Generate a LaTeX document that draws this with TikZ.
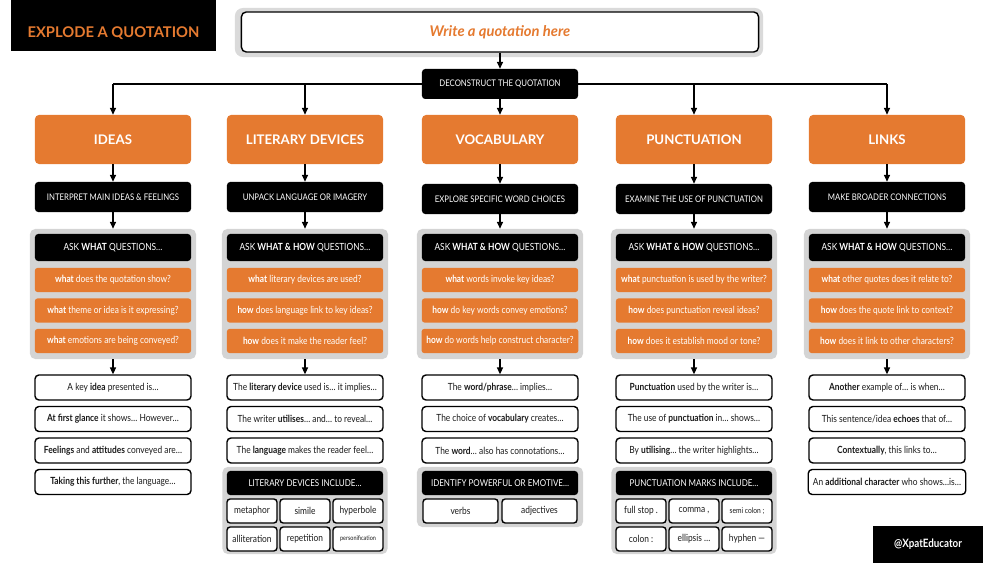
\documentclass[tikz,border=0pt]{standalone}
\usepackage{fontspec}
\setmainfont{Lato}
\newfontfamily\cond[FakeStretch=0.85]{Lato}
\usetikzlibrary{arrows.meta,positioning}
\definecolor{flame}{HTML}{E57A30}
\definecolor{panelgrey}{HTML}{D4D4D4}
\definecolor{quotegrey}{HTML}{DADADA}
\definecolor{ink}{HTML}{1A1A1A}

\begin{document}
\begin{tikzpicture}[x=.025cm,y=-.025cm,font=\cond\fontsize{7}{8.4}\selectfont,text=ink,
  arr/.style={-{Triangle[length=1.7mm,width=1.5mm]},line width=.85pt,draw=black},
  headbox/.style={fill=flame,rounded corners=.1cm,minimum width=3.9cm,minimum height=1.225cm,
    text=white,font=\rmfamily\bfseries\fontsize{9.4}{11}\selectfont},
  taskbox/.style={fill=black,rounded corners=.08cm,minimum width=3.9cm,minimum height=.75cm,text=white,
    font=\cond\fontsize{6.5}{8}\selectfont},
  askbox/.style={fill=black,rounded corners=.08cm,minimum width=3.9cm,minimum height=.675cm,text=white},
  qbox/.style={fill=flame,rounded corners=.06cm,minimum width=3.9cm,minimum height=.6cm,text=white},
  stembox/.style={draw=black,line width=1pt,fill=white,rounded corners=.1cm,
    minimum width=3.9cm,minimum height=.625cm},
  cellbox/.style={draw=black,line width=1pt,fill=white,rounded corners=.08cm,minimum height=.6cm},
  panel/.style={fill=panelgrey,rounded corners=.13cm,inner sep=0pt}]
\path[use as bounding box] (0,0) rectangle (1000,563);

% Title strip and the slot for the quotation
\fill[black] (11,0) rectangle (216,51);
\node[text=flame,font=\rmfamily\bfseries\fontsize{10.5}{12}\selectfont] (title) at (113.5,33.5) {EXPLODE A QUOTATION};
\node[fill=quotegrey,rounded corners=.2cm,minimum width=13.2cm,minimum height=1.225cm] (quoteback) at (499,32.5) {};
\node[draw=black,line width=1pt,fill=white,rounded corners=.12cm,minimum width=12.925cm,minimum height=1cm,
  text=flame,font=\rmfamily\bfseries\itshape\fontsize{10.5}{12}\selectfont] (quote) at (500,32) {Write a quotation here};

% Five lenses: heading, task and the question panel
\foreach \i/\cx/\ty/\head/\task/\ask in {
  1/113/197/IDEAS/{INTERPRET MAIN IDEAS \& FEELINGS}/{ASK \textbf{WHAT} QUESTIONS…},
  2/305/197/LITERARY DEVICES/UNPACK LANGUAGE OR IMAGERY/{ASK \textbf{WHAT \& HOW} QUESTIONS…},
  3/500/199/VOCABULARY/EXPLORE SPECIFIC WORD CHOICES/{ASK \textbf{WHAT \& HOW} QUESTIONS…},
  4/694/199/PUNCTUATION/EXAMINE THE USE OF PUNCTUATION/{ASK \textbf{WHAT \& HOW} QUESTIONS…},
  5/887/197/LINKS/MAKE BROADER CONNECTIONS/{ASK \textbf{WHAT \& HOW} QUESTIONS…}}{
  \coordinate (split\i) at (\cx,84);
  \node[headbox] (head\i) at (\cx,139.5) {\head};
  \node[taskbox] (task\i) at (\cx,\ty) {\task};
  \node[panel,minimum width=4.15cm,minimum height=3.25cm] (panel\i) at (\cx,294) {};
  \node[askbox] (ask\i) at (\cx,247.5) {\ask};
  \draw[arr] (head\i) -- (task\i);
  \draw[arr] (task\i) -- (panel\i);
}
\draw[line width=.85pt] (split1) -- (split5);
\node[taskbox] (decon) at (500,84) {DECONSTRUCT THE QUOTATION};
\draw[arr] (quote) -- (decon);
\draw[arr] (decon) -- (head3);
\foreach \i in {1,2,4,5} \draw[arr] (split\i) -- (head\i);

% Question prompts
\foreach \i/\cx/\qa/\qb/\qc in {
  1/113/{\textbf{what} does the quotation show?}/{\textbf{what} theme or idea is it expressing?}/{\textbf{what} emotions are being conveyed?},
  2/305/{\textbf{what} literary devices are used?}/{\textbf{how} does language link to key ideas?}/{\textbf{how} does it make the reader feel?},
  3/500/{\textbf{what} words invoke key ideas?}/{\textbf{how} do key words convey emotions?}/{\textbf{how} do words help construct character?},
  4/694/{\textbf{what} punctuation is used by the writer?}/{\textbf{how} does punctuation reveal ideas?}/{\textbf{how} does it establish mood or tone?},
  5/887/{\textbf{what} other quotes does it relate to?}/{\textbf{how} does the quote link to context?}/{\textbf{how} does it link to other characters?}}{
  \node[qbox] (q\i1) at (\cx,280) {\qa};
  \node[qbox] (q\i2) at (\cx,310.5) {\qb};
  \node[qbox] (q\i3) at (\cx,341) {\qc};
}

% Sentence starters
\foreach \s [count=\j] in {{A key \textbf{idea} presented is…},{\textbf{At first glance} it shows… However…},
  {\textbf{Feelings} and \textbf{attitudes} conveyed are…},{\textbf{Taking this further}, the language…}}
  \node[stembox] (stem1\j) at (113,{356+31.5*\j}) {\s};
\foreach \s [count=\j] in {{The \textbf{literary device} used is… it implies…},{The writer \textbf{utilises}… and… to reveal…},
  {The \textbf{language} makes the reader feel…}}
  \node[stembox] (stem2\j) at (305,{356+31.5*\j}) {\s};
\foreach \s [count=\j] in {{The \textbf{word/phrase}… implies…},{The choice of \textbf{vocabulary} creates…},
  {The \textbf{word}… also has connotations…}}
  \node[stembox] (stem3\j) at (500,{356+31.5*\j}) {\s};
\foreach \s [count=\j] in {{\textbf{Punctuation} used by the writer is…},{The use of \textbf{punctuation} in… shows…},
  {By \textbf{utilising}… the writer highlights…}}
  \node[stembox] (stem4\j) at (694,{356+31.5*\j}) {\s};
\foreach \s [count=\j] in {{\textbf{Another} example of… is when…},{This sentence/idea \textbf{echoes} that of…},
  {\textbf{Contextually}, this links to…},{An \textbf{additional character} who shows…is…}}
  \node[stembox] (stem5\j) at (887,{356+31.5*\j}) {\s};
\foreach \i in {1,...,5} \draw[arr] (panel\i) -- (stem\i1);

% Word banks under three of the columns
\node[panel,minimum width=4.125cm,minimum height=2.175cm] (kit2) at (305,510.5) {};
\node[askbox,minimum height=.6cm,font=\cond\fontsize{6.7}{8}\selectfont] (kithead2) at (305,483) {LITERARY DEVICES INCLUDE…};
\foreach \c/\dx/\cy [count=\k] in {metaphor/-53/511,simile/0/511,hyperbole/53/511,
  alliteration/-53/539,repetition/0/539,{\fontsize{4.6}{5}\selectfont personification}/53/539}
  \node[cellbox,minimum width=1.25cm] (cell2\k) at (305+\dx,\cy) {\c};

\node[panel,minimum width=4.15cm,minimum height=1.5cm] (kit3) at (500,497) {};
\node[askbox,minimum height=.6cm,font=\cond\fontsize{6.7}{8}\selectfont] (kithead3) at (500,483) {IDENTIFY POWERFUL OR EMOTIVE…};
\foreach \c/\dx [count=\k] in {verbs/-39.5,adjectives/39.5}
  \node[cellbox,minimum width=1.875cm] (cell3\k) at (500+\dx,511) {\c};

\node[panel,minimum width=4.125cm,minimum height=2.175cm] (kit4) at (694,510.5) {};
\node[askbox,minimum height=.6cm,font=\cond\fontsize{6.7}{8}\selectfont] (kithead4) at (694,483) {PUNCTUATION MARKS INCLUDE…};
\foreach \c/\dx/\cy [count=\k] in {full stop ./-53/511,{comma ,}/0/511,{\fontsize{5.6}{6}\selectfont semi colon ;}/53/511,
  colon :/-53/539,ellipsis …/0/539,hyphen —/53/539}
  \node[cellbox,minimum width=1.25cm] (cell4\k) at (694+\dx,\cy) {\c};

\node[fill=black,minimum width=2.75cm,minimum height=.925cm,text=white,
  font=\cond\bfseries\fontsize{8.2}{10}\selectfont] (handle) at (928,544.5) {@XpatEducator};
\end{tikzpicture}
\end{document}
